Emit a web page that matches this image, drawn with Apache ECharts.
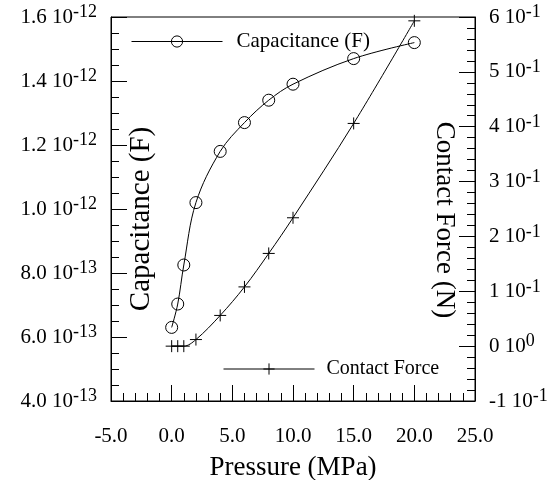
<!DOCTYPE html>
<html lang="en">

<head>
    <meta charset="UTF-8">
    <title>Capacitance / Contact Force</title>
    <script src="https://cdn.jsdelivr.net/npm/echarts@6/dist/echarts.min.js"></script>
    <style>
        * {
            margin: 0;
            padding: 0
        }

        html,
        body {
            width: 556px;
            height: 480px;
            background: #fff;
        }
    </style>
</head>

<body>
    <div id="main" style="width:556px;height:480px"></div>

    <script>
        // pressure (MPa)
        var capPressure = [0, 0.5, 1, 2, 4, 6, 8, 10, 15, 20];
        var capacitance = [6.30e-13, 7.03e-13, 8.25e-13, 1.02e-12, 1.18e-12, 1.27e-12, 1.34e-12, 1.39e-12, 1.47e-12, 1.52e-12];

        var forcePressure = [0, 0.5, 1, 2, 4, 6, 8, 10, 15, 20];
        var contactForce = [0, 0, 0, 0.012, 0.056, 0.108, 0.169, 0.234, 0.406, 0.593];

        var font = 'Liberation Serif';
        var crossPath = 'path://M0,5L10,5M5,0L5,10';

        function pairs(xs, ys) {
            return xs.map(function (x, i) { return [x, ys[i]]; });
        }

        // "1.6e-12" -> 1.6 10^-12
        function sciLabel(v, digits) {
            var s = v.toExponential(digits).split('e');
            return s[0] + ' 10{sup|' + parseInt(s[1], 10) + '}';
        }

        function supRich(size) {
            return { sup: { fontFamily: font, fontSize: size, color: '#000', verticalAlign: 'top', lineHeight: 27 } };
        }

        var chart = echarts.init(document.getElementById('main'));
        chart.setOption({
            animation: false,
            backgroundColor: '#fff',
            textStyle: { fontFamily: font, color: '#000' },
            grid: {
                left: 111, top: 17, right: 81, bottom: 79,
                outerBoundsMode: 'none',
                show: true, borderColor: '#000', borderWidth: 1
            },
            legend: [{
                data: ['Capacitance (F)'],
                left: 131, top: 31, padding: 0,
                itemWidth: 91, itemHeight: 14,
                lineStyle: { width: 1 },
                itemStyle: { borderWidth: 1 },
                textStyle: { fontFamily: font, fontSize: 21, color: '#000', padding: [0, 0, 0, 9] }
            }, {
                data: ['Contact Force'],
                left: 223, top: 359, padding: 0,
                itemWidth: 91, itemHeight: 14,
                lineStyle: { width: 1 },
                itemStyle: { borderWidth: 1 },
                textStyle: { fontFamily: font, fontSize: 20, color: '#000', padding: [0, 0, 0, 7] }
            }],
            xAxis: {
                type: 'value',
                min: -5, max: 25, interval: 5,
                name: 'Pressure (MPa)',
                nameLocation: 'middle',
                nameGap: 53,
                nameTextStyle: { fontFamily: font, fontSize: 27, color: '#000' },
                axisLine: { onZero: false, lineStyle: { color: '#000', width: 1 } },
                axisTick: { inside: true, length: 16, lineStyle: { color: '#000' } },
                minorTick: { show: true, splitNumber: 5, length: 8, lineStyle: { color: '#000' } },
                splitLine: { show: false },
                axisLabel: {
                    margin: 25, fontFamily: font, fontSize: 21, color: '#000',
                    formatter: function (v) { return v.toFixed(1); }
                }
            },
            yAxis: [{
                type: 'value',
                position: 'left',
                min: 4e-13, max: 1.6e-12, interval: 2e-13,
                name: 'Capacitance (F)',
                nameLocation: 'middle',
                nameRotate: 90,
                nameGap: -45,
                nameMoveOverlap: false,
                nameTextStyle: { fontFamily: font, fontSize: 29, color: '#000', padding: [0, 20, 0, 0] },
                axisLine: { show: true, onZero: false, lineStyle: { color: '#000', width: 1 } },
                axisTick: { show: true, inside: true, length: 16, lineStyle: { color: '#000' } },
                minorTick: { show: true, splitNumber: 4, length: 8, lineStyle: { color: '#000' } },
                splitLine: { show: false },
                axisLabel: {
                    margin: 14, fontFamily: font, fontSize: 21, color: '#000',
                    lineHeight: 27, verticalAlign: 'middle',
                    rich: supRich(18),
                    formatter: function (v) { return sciLabel(v, 1); }
                }
            }, {
                type: 'value',
                position: 'right',
                min: -0.1, max: 0.6, interval: 0.1,
                name: 'Contact Force (N)',
                nameLocation: 'middle',
                nameRotate: -90,
                nameGap: -44,
                nameMoveOverlap: false,
                nameTextStyle: { fontFamily: font, fontSize: 27, color: '#000', padding: [0, 0, 0, 22] },
                axisLine: { show: true, onZero: false, lineStyle: { color: '#000', width: 1 } },
                axisTick: { show: true, inside: true, length: 16, lineStyle: { color: '#000' } },
                minorTick: { show: true, splitNumber: 5, length: 8, lineStyle: { color: '#000' } },
                splitLine: { show: false },
                axisLabel: {
                    margin: 14, fontFamily: font, fontSize: 21, color: '#000',
                    lineHeight: 27, verticalAlign: 'middle',
                    rich: supRich(18),
                    formatter: function (v) { return sciLabel(v, 0); }
                }
            }],
            series: [{
                name: 'Capacitance (F)',
                type: 'line',
                yAxisIndex: 0,
                data: pairs(capPressure, capacitance),
                smooth: 0.35,
                symbol: 'circle',
                symbolSize: 12,
                lineStyle: { color: '#000', width: 1 },
                itemStyle: { color: 'rgba(255,255,255,0)', borderColor: '#000', borderWidth: 1 },
                z: 3
            }, {
                name: 'Contact Force',
                type: 'line',
                yAxisIndex: 1,
                data: pairs(forcePressure, contactForce),
                smooth: 0.35,
                symbol: crossPath,
                symbolSize: 12,
                lineStyle: { color: '#000', width: 1 },
                itemStyle: { color: '#000', borderColor: '#000', borderWidth: 1 },
                z: 3
            }]
        });
    </script>
</body>

</html>
